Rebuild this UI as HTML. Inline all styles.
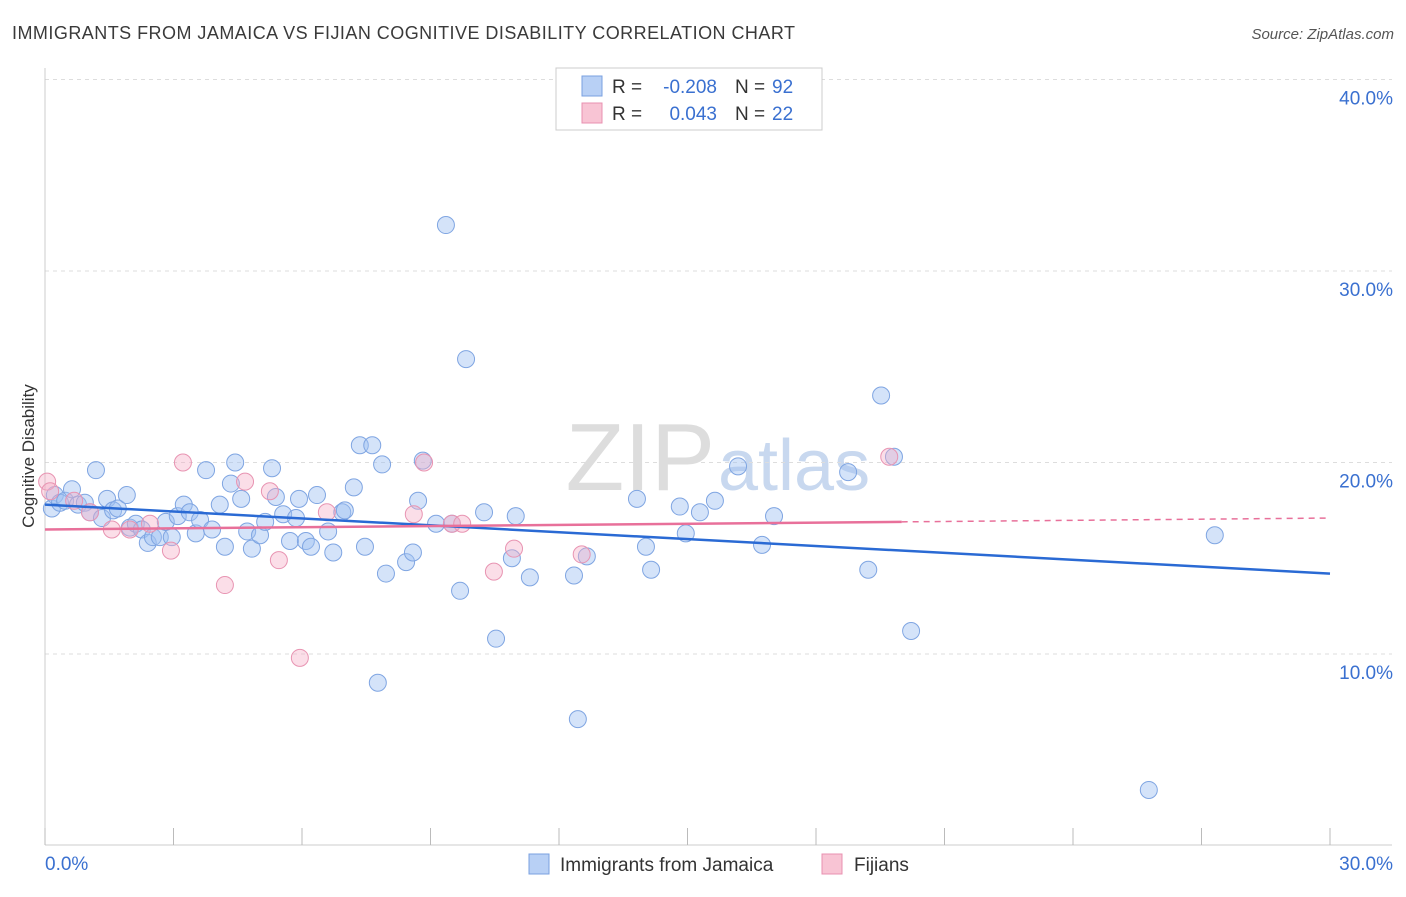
<!DOCTYPE html>
<html><head><meta charset="utf-8"><style>
body{margin:0;background:#fff;font-family:"Liberation Sans",sans-serif;}
svg text{font-family:"Liberation Sans",sans-serif;}
</style></head><body>
<svg id="chart" width="1406" height="892" xmlns="http://www.w3.org/2000/svg">
<text x="12" y="39" font-size="18" fill="#3a3a3a" textLength="783" lengthAdjust="spacing">IMMIGRANTS FROM JAMAICA VS FIJIAN COGNITIVE DISABILITY CORRELATION CHART</text>
<text x="1394" y="39" font-size="15" fill="#555" text-anchor="end" font-style="italic">Source: ZipAtlas.com</text>
<text x="715" y="490" font-size="96" fill="#ddd" text-anchor="end" font-family="Liberation Serif">ZIP</text>
<text x="718" y="490" font-size="72" fill="#c8d8ef">atlas</text>
<text transform="translate(34,456) rotate(-90)" font-size="17" fill="#333" text-anchor="middle">Cognitive Disability</text>
<g id="grid"></g><g id="axes"></g><g id="marks"></g>
<g>
<rect x="556" y="68" width="266" height="62" fill="#fff" stroke="#ccc"/>
<rect x="582" y="76" width="20" height="20" fill="#b8d0f5" stroke="#7aa0e0"/>
<rect x="582" y="103" width="20" height="20" fill="#f8c4d4" stroke="#e890b0"/>
<text x="612" y="93" font-size="19" fill="#333">R =</text>
<text x="717" y="93" font-size="19" fill="#3a70d0" text-anchor="end">-0.208</text>
<text x="735" y="93" font-size="19" fill="#333">N =</text>
<text x="772" y="93" font-size="19" fill="#3a70d0">92</text>
<text x="612" y="120" font-size="19" fill="#333">R =</text>
<text x="717" y="120" font-size="19" fill="#3a70d0" text-anchor="end">0.043</text>
<text x="735" y="120" font-size="19" fill="#333">N =</text>
<text x="772" y="120" font-size="19" fill="#3a70d0">22</text>
</g>
<g>
<rect x="529" y="854" width="20" height="20" fill="#b8d0f5" stroke="#7aa0e0"/>
<text x="560" y="871" font-size="19" fill="#333">Immigrants from Jamaica</text>
<rect x="822" y="854" width="20" height="20" fill="#f8c4d4" stroke="#e890b0"/>
<text x="854" y="871" font-size="19" fill="#333">Fijians</text>
</g>
</svg>
<script>
const yTicks=[10,20,30,40];
const xTickLabels=["0.0%","30.0%"];
const blueX=[0.16,0.23,0.35,0.47,0.63,0.77,0.93,1.05,1.19,1.33,1.45,1.59,1.70,1.91,1.98,2.12,2.26,2.40,2.52,2.68,2.82,2.96,3.10,3.24,3.38,3.52,3.62,3.76,3.90,4.08,4.20,4.34,4.44,4.58,4.72,4.83,5.02,5.14,5.30,5.39,5.56,5.72,5.86,5.93,6.09,6.21,6.35,6.61,6.73,6.94,7.00,7.21,7.35,7.47,7.64,7.77,7.87,7.96,8.43,8.59,8.71,8.82,9.13,9.50,9.69,9.83,9.36,10.25,10.53,10.90,10.99,11.32,12.35,12.44,12.65,13.82,14.03,14.15,14.82,14.96,15.29,15.64,16.18,16.74,17.02,18.75,19.22,19.52,19.82,20.22,25.77,27.31];
const blueY=[17.6,18.3,17.9,18.0,18.6,17.8,17.9,17.4,19.6,17.1,18.1,17.5,17.6,18.3,16.6,16.8,16.5,15.8,16.1,16.1,16.9,16.1,17.2,17.8,17.4,16.3,17.0,19.6,16.5,17.8,15.6,18.9,20.0,18.1,16.4,15.5,16.2,16.9,19.7,18.2,17.3,15.9,17.1,18.1,15.9,15.6,18.3,16.4,15.3,17.4,17.5,18.7,20.9,15.6,20.9,8.5,19.9,14.2,14.8,15.3,18.0,20.1,16.8,16.8,13.3,25.4,32.4,17.4,10.8,15.0,17.2,14.0,14.1,6.6,15.1,18.1,15.6,14.4,17.7,16.3,17.4,18.0,19.8,15.7,17.2,19.5,14.4,23.5,20.3,11.2,2.9,16.2];
const pinkX=[0.05,0.12,0.68,1.05,1.56,1.98,2.45,2.94,3.22,4.20,4.67,5.25,5.46,5.95,6.58,8.61,8.85,9.50,9.74,10.48,10.95,12.53,19.71];
const pinkY=[19.0,18.5,18.0,17.4,16.5,16.5,16.8,15.4,20.0,13.6,19.0,18.5,14.9,9.8,17.4,17.3,20.0,16.8,16.8,14.3,15.5,15.2,20.3];
const blueTrend=[17.8,14.2];
const pinkTrend=[16.5,16.9,17.1];
const pinkSolidEnd=20.0;
const NS="http://www.w3.org/2000/svg";
const X0=45,X1=1330,Y0=845.5,PY=19.15;
const xs=v=>X0+(v/30)*(X1-X0), ys=v=>Y0-v*PY;
function mk(tag,attrs,parent){const e=document.createElementNS(NS,tag);for(const k in attrs)e.setAttribute(k,attrs[k]);document.getElementById(parent).appendChild(e);return e;}
yTicks.forEach(t=>{
 const l=mk('line',{x1:45,x2:1392,y1:ys(t),y2:ys(t),stroke:'#ddd','stroke-dasharray':'4,4'},'grid');
 
 
 const tx=mk('text',{x:1393,y:ys(t)+25,'font-size':19,fill:'#3a70d0','text-anchor':'end'},'axes');
 tx.textContent=t.toFixed(1)+'%';
 
 
});
const ax=mk('line',{x1:45,x2:1392,y1:845,y2:845,stroke:'#ccc'},'axes');


const ay=mk('line',{x1:45,x2:45,y1:68,y2:845,stroke:'#ccc'},'axes');


for(let i=0;i<=10;i++){const t=mk('line',{x1:xs(i*3),x2:xs(i*3),y1:828,y2:845,stroke:'#bbb'},'axes');
 
 }
[[0,'start',45],[1,'end',1393]].forEach(([i,a,x])=>{const t=mk('text',{x:x,y:870,'font-size':19,fill:'#3a70d0','text-anchor':a},'axes');t.textContent=xTickLabels[i];
 
 });
blueX.forEach((v,i)=>{const c=mk('circle',{cx:xs(v),cy:ys(blueY[i]),r:8.5,fill:'rgba(160,192,242,0.45)',stroke:'#7fa5e2','stroke-width':1},'marks');
 
 });
pinkX.forEach((v,i)=>{const c=mk('circle',{cx:xs(v),cy:ys(pinkY[i]),r:8.5,fill:'rgba(246,172,198,0.4)',stroke:'#e894b2','stroke-width':1},'marks');
 
 });
const bl=mk('line',{x1:xs(0),y1:ys(blueTrend[0]),x2:xs(30),y2:ys(blueTrend[1]),stroke:'#2a6ad4','stroke-width':2.5},'marks');


const pl=mk('line',{x1:xs(0),y1:ys(pinkTrend[0]),x2:xs(pinkSolidEnd),y2:ys(pinkTrend[1]),stroke:'#e8709a','stroke-width':2.5},'marks');


const pd=mk('line',{x1:xs(pinkSolidEnd),y1:ys(pinkTrend[1]),x2:xs(30),y2:ys(pinkTrend[2]),stroke:'#e8709a','stroke-width':1.5,'stroke-dasharray':'6,5'},'marks');


</script>
</body></html>
